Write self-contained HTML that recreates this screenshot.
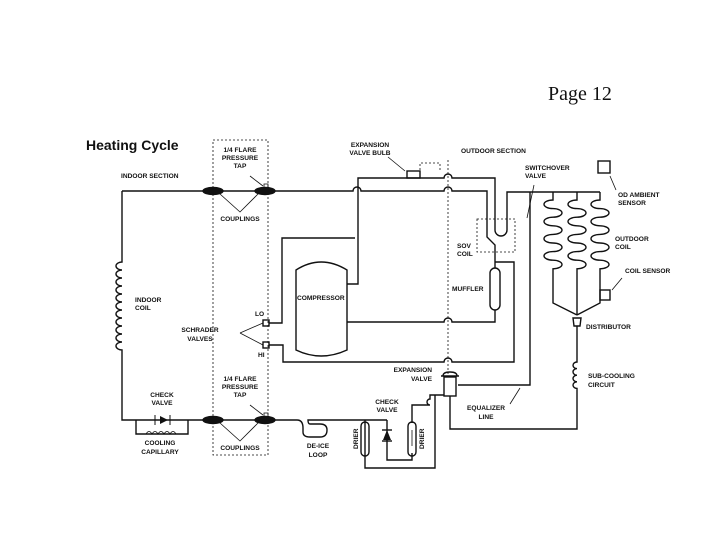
<!DOCTYPE html>
<html><head><style>
body{margin:0;background:#fff;}
svg text{font-family:"Liberation Sans",sans-serif;font-size:6.6px;font-weight:bold;fill:#111;}
</style></head><body>
<svg width="720" height="540" viewBox="0 0 720 540" xmlns="http://www.w3.org/2000/svg">
<text x="548" y="100" style="font-family:'Liberation Serif',serif;font-size:20px;font-weight:normal">Page 12</text>
<text x="86" y="150" style="font-size:14px">Heating Cycle</text>
<g fill="none" stroke="#111" stroke-width="1.4">
<rect x="213" y="140" width="55" height="315" stroke-dasharray="2,2" stroke-width="0.8"/>
<path d="M448 160 V375" stroke-dasharray="2,2" stroke-width="0.8"/>
<path d="M420 170 V163 H440 V172" stroke-dasharray="2,2" stroke-width="0.8"/>
<rect x="477" y="219" width="38" height="33" stroke-dasharray="2,2" stroke-width="0.8"/>
<path d="M122 191 H353 a4 4 0 0 1 8 0 H444 a4 4 0 0 1 8 0 H487 V237 L495 245 V268 M495 310 V322 H452 a4 4 0 0 0 -8 0 H347"/>
<rect x="490" y="268" width="10" height="42" rx="5"/>
<path d="M347 284 H358 V178 H444 a4 4 0 0 1 8 0 H495 V230 a6 6 0 0 0 12 0 V192 H600"/>
<rect x="407" y="171" width="13" height="7"/>
<path d="M530 192 V385 H458"/>
<path d="M269 323 H282 V238 H355"/>
<path d="M269 345 H283 V362 H444 a4 4 0 0 1 8 0 H514 V262 H495"/>
<rect x="263" y="320" width="6" height="6"/>
<rect x="263" y="342" width="6" height="6"/>
<path d="M240 333 L263 323 M240 333 L263 345" stroke-width="0.8"/>
<path d="M296 270 Q321 254 347 270 V350 Q321 362 296 350 Z"/>
<path d="M122 191 V262 a6 4 0 0 0 0 8 a6 4 0 0 0 0 8 a6 4 0 0 0 0 8 a6 4 0 0 0 0 8 a6 4 0 0 0 0 8 a6 4 0 0 0 0 8 a6 4 0 0 0 0 8 a6 4 0 0 0 0 8 a6 4 0 0 0 0 8 a6 4 0 0 0 0 8 a6 4 0 0 0 0 8 V420 H297 Q303 420 303 428 V432 Q303 437 310 437 H320 Q327 437 327 430 Q327 424 320 424 H310 Q308 424 308 420 H387"/>
<path d="M136 420 V434 H188 V420"/>
<path d="M155 415 V425 M170 415 V425" stroke-width="1"/>
<polygon points="160,416 168,420 160,424" fill="#111" stroke="none"/>
<path d="M146 434 q3 -5 6 0 q3 -5 6 0 q3 -5 6 0 q3 -5 6 0 q3 -5 6 0" stroke-width="0.8"/>
<g fill="#111"><ellipse cx="213" cy="191" rx="10" ry="3.5"/><ellipse cx="265" cy="191" rx="10" ry="3.5"/><ellipse cx="213" cy="420" rx="10" ry="3.5"/><ellipse cx="265" cy="420" rx="10" ry="3.5"/></g>
<rect x="264" y="184" width="4" height="4" stroke-width="0.8"/>
<rect x="264" y="413" width="4" height="4" stroke-width="0.8"/>
<path d="M220 194 L240 212 L258 194 M220 423 L240 441 L258 423 M250 176 L263 186 M250 405 L263 415" stroke-width="0.8"/>
<path d="M387 420 V460 H412 V453 M412 423 V405 H430 a3 3 0 0 1 0 -6 V395 H444"/>
<path d="M365 420 V468 H435 V395"/>
<rect x="361" y="422" width="8" height="34" rx="4"/>
<rect x="408" y="422" width="8" height="34" rx="4"/>
<path d="M365 430 V446 M412 430 V446" stroke-width="0.8"/>
<path d="M382 430 H392"/>
<polygon points="387,430 383,440 391,440" fill="#111" stroke="none"/>
<path d="M382 441 H392"/>
<path d="M441 376 H459 M443 376 Q443 372 450 372 Q457 372 457 376"/>
<rect x="444" y="377" width="12" height="19"/>
<path d="M553 192 V200 a9 4.3 0 0 0 0 8.6 a9 4.3 0 0 1 0 8.6 a9 4.3 0 0 0 0 8.6 a9 4.3 0 0 1 0 8.6 a9 4.3 0 0 0 0 8.6 a9 4.3 0 0 1 0 8.6 a9 4.3 0 0 0 0 8.6 a9 4.3 0 0 1 0 8.6 V303 L577 315"/>
<path d="M577 192 V200 a9 4.3 0 0 0 0 8.6 a9 4.3 0 0 1 0 8.6 a9 4.3 0 0 0 0 8.6 a9 4.3 0 0 1 0 8.6 a9 4.3 0 0 0 0 8.6 a9 4.3 0 0 1 0 8.6 a9 4.3 0 0 0 0 8.6 a9 4.3 0 0 1 0 8.6 V315"/>
<path d="M600 192 V200 a9 4.3 0 0 0 0 8.6 a9 4.3 0 0 1 0 8.6 a9 4.3 0 0 0 0 8.6 a9 4.3 0 0 1 0 8.6 a9 4.3 0 0 0 0 8.6 a9 4.3 0 0 1 0 8.6 a9 4.3 0 0 0 0 8.6 a9 4.3 0 0 1 0 8.6 V303 L577 315"/>
<rect x="600" y="290" width="10" height="10"/>
<rect x="598" y="161" width="12" height="12"/>
<path d="M610 176 L616 190 M612 290 L622 278" stroke-width="0.8"/>
<path d="M573 318 H581 L580 326 H574 Z"/>
<path d="M577 326 V362 a4 3.3 0 0 0 0 6.6 a4 3.3 0 0 0 0 6.6 a4 3.3 0 0 0 0 6.6 a4 3.3 0 0 0 0 6.6 V429 H450 V396"/>
<path d="M520 388 L510 404 M388 157 L405 171 M534 185 L527 218" stroke-width="0.8"/>
</g>
<text x="121" y="178">INDOOR SECTION</text>
<g text-anchor="middle">
<text x="240" y="152">1/4 FLARE</text><text x="240" y="160">PRESSURE</text><text x="240" y="168">TAP</text>
<text x="240" y="221">COUPLINGS</text>
<text x="370" y="147">EXPANSION</text><text x="370" y="155">VALVE BULB</text>
<text x="200" y="332">SCHRADER</text><text x="200" y="341">VALVES</text>
<text x="240" y="381">1/4 FLARE</text><text x="240" y="389">PRESSURE</text><text x="240" y="397">TAP</text>
<text x="162" y="397">CHECK</text><text x="162" y="405">VALVE</text>
<text x="387" y="404">CHECK</text><text x="387" y="412">VALVE</text>
<text x="486" y="410">EQUALIZER</text><text x="486" y="419">LINE</text>
<text x="160" y="445">COOLING</text><text x="160" y="454">CAPILLARY</text>
<text x="240" y="450">COUPLINGS</text>
<text x="318" y="448">DE-ICE</text><text x="318" y="457">LOOP</text>
</g>
<text x="461" y="153">OUTDOOR SECTION</text>
<text x="525" y="170">SWITCHOVER</text><text x="525" y="178">VALVE</text>
<text x="618" y="197">OD AMBIENT</text><text x="618" y="205">SENSOR</text>
<text x="615" y="241">OUTDOOR</text><text x="615" y="249">COIL</text>
<text x="625" y="273">COIL SENSOR</text>
<text x="457" y="248">SOV</text><text x="457" y="256">COIL</text>
<text x="452" y="291">MUFFLER</text>
<text x="297" y="300">COMPRESSOR</text>
<text x="586" y="329">DISTRIBUTOR</text>
<text x="135" y="302">INDOOR</text><text x="135" y="310">COIL</text>
<text x="255" y="316">LO</text>
<text x="258" y="357">HI</text>
<text x="432" y="372" text-anchor="end">EXPANSION</text><text x="432" y="381" text-anchor="end">VALVE</text>
<text x="588" y="378">SUB-COOLING</text><text x="588" y="387">CIRCUIT</text>
<text transform="translate(358,449) rotate(-90)">DRIER</text>
<text transform="translate(424,449) rotate(-90)">DRIER</text>
</svg>
</body></html>
